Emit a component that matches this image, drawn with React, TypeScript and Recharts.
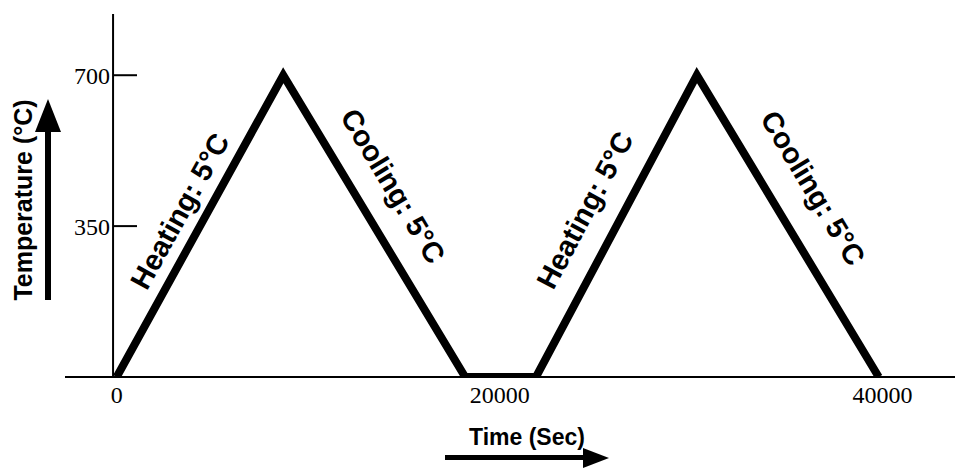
import React from 'react';
import { LineChart, Line, XAxis, YAxis, ReferenceLine, ReferenceDot } from 'recharts';

// Time (s) and temperature (°C) of the thermal cycle
const times = [0, 8700, 18200, 21900, 30300, 39800];
const temps = [0, 700, 0, 0, 700, 0];
const xTicks = [0, 20000, 40000];
const yTicks = [350, 700];

const annotationText = ['Heating: 5°C', 'Cooling: 5°C', 'Heating: 5°C', 'Cooling: 5°C'];
const annotationX = [3300, 14430, 24460, 36370];
const annotationY = [385, 443, 387, 438];
const annotationAngle = [-61, 59, -62, 59];

const data = times.map((t, i) => ({ time: t, temp: temps[i] }));

const X_DOMAIN: [number, number] = [-2700, 44200];
const Y_DOMAIN: [number, number] = [0, 842];
const Y_AXIS_AT = -190;
const TICK_LEN = 1060;

const serif = '"Liberation Serif", "Times New Roman", serif';
const sans = '"Liberation Sans", Arial, sans-serif';

const makeLabel = (text: string, angle: number) => (props: any) => {
  const vb = props.viewBox || {};
  const cx = vb.x + (vb.width || 0) / 2;
  const cy = vb.y + (vb.height || 0) / 2;
  return (
    <text
      x={cx}
      y={cy}
      textAnchor="middle"
      dominantBaseline="central"
      transform={`rotate(${angle} ${cx} ${cy})`}
      fontFamily={sans}
      fontWeight="bold"
      fontSize={29}
      fill="#000"
    >
      {text}
    </text>
  );
};

export default function App() {
  return (
    <div style={{ width: 955, height: 462, background: '#fff' }}>
      <LineChart
        width={955}
        height={462}
        data={data}
        margin={{ top: 6, right: 0, bottom: 63, left: 57 }}
      >
        <XAxis
          dataKey="time"
          type="number"
          domain={X_DOMAIN}
          ticks={xTicks}
          tickLine={false}
          axisLine={{ stroke: '#000', strokeWidth: 2 }}
          tick={{ fill: '#000', fontSize: 24, fontFamily: serif }}
          tickMargin={3}
          height={30}
          allowDataOverflow
        />
        <YAxis type="number" domain={Y_DOMAIN} hide allowDataOverflow />
        <ReferenceLine x={Y_AXIS_AT} stroke="#000" strokeWidth={2} />
        {yTicks.map((v) => (
          <ReferenceLine
            key={v}
            segment={[
              { x: Y_AXIS_AT, y: v },
              { x: TICK_LEN, y: v },
            ]}
            stroke="#000"
            strokeWidth={2}
            ifOverflow="visible"
            label={{ value: String(v), position: 'left', fill: '#000', fontSize: 24, fontFamily: serif, offset: 3 }}
          />
        ))}
        <Line
          type="linear"
          dataKey="temp"
          stroke="#000"
          strokeWidth={8}
          dot={false}
          isAnimationActive={false}
        />
        {annotationText.map((t, i) => (
          <ReferenceDot
            key={i}
            x={annotationX[i]}
            y={annotationY[i]}
            r={0}
            fill="none"
            stroke="none"
            label={makeLabel(t, annotationAngle[i])}
          />
        ))}
        <g>
          <text
            x={15}
            y={192}
            textAnchor="middle"
            dominantBaseline="central"
            transform="rotate(-90 15 192)"
            fontFamily={sans}
            fontWeight="bold"
            fontSize={25}
            fill="#000"
          >
            Temperature (°C)
          </text>
          <rect x={37} y={122} width={6} height={170} fill="#000" />
          <polygon points="40,91 27,124 53,124" fill="#000" />
          <text
            x={519}
            y={437}
            textAnchor="middle"
            fontFamily={sans}
            fontWeight="bold"
            fontSize={23}
            fill="#000"
          >
            Time (Sec)
          </text>
          <rect x={437} y={447} width={140} height={5} fill="#000" />
          <polygon points="575,440 575,460 601,450" fill="#000" />
        </g>
      </LineChart>
    </div>
  );
}
